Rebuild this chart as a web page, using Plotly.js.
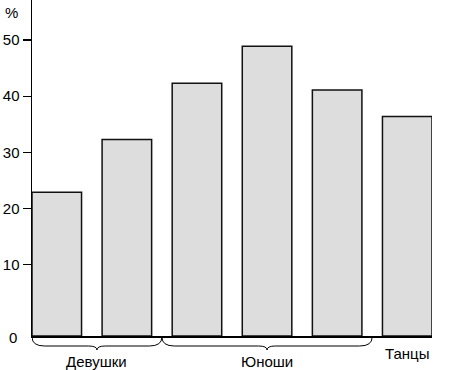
<!DOCTYPE html>
<html>
<head>
<meta charset="utf-8">
<script src="https://cdn.plot.ly/plotly-3.0.1.min.js"></script>
<style>html,body{margin:0;padding:0;background:#fff;}#chart{width:454px;height:370px;}</style>
</head>
<body>
<div id="chart"></div>
<script>
// Data
var categories = [0, 1, 2, 3, 4, 5];
var values = [22.9, 32.3, 42.3, 48.9, 41.1, 36.4];
var groupLabels = ["Девушки", "Юноши", "Танцы"];
var groupFirst = [0, 2, 5];
var groupLast = [1, 4, 5];
var groupBrace = [true, true, false];
var yTickVals = [10, 20, 30, 40, 50];
var yTickText = ["10", "20", "30", "40", "50"];
var zeroLabel = "0";
var unitLabel = "%";

// Layout geometry
var W = 454, H = 370;
var mL = 32, mR = 22, mT = 0, mB = 34;
var plotH = H - mT - mB;
var barW = 0.707;
var xMin = categories[0] - barW / 2;
var xMax = categories[categories.length - 1] + barW / 2;
var yMin = -2.67, yMax = 57.11;
function py(px) { return (H - mB - px) / plotH; } // pixel row -> paper y

var font = {family: "Liberation Sans, Arial, Helvetica, sans-serif", size: 15, color: "#000"};

var trace = {
  type: "bar",
  x: categories,
  y: values.map(function (v) { return v - yMin; }),
  base: yMin,
  width: barW,
  marker: {color: "#dddddd", line: {color: "#111", width: 1.5}},
  hoverinfo: "skip"
};

var shapes = [];
var annotations = [];
for (var g = 0; g < groupLabels.length; g++) {
  var a = groupFirst[g] === 0 ? xMin : groupFirst[g] - 0.5;
  var b = groupLast[g] + 0.5;
  var mid = (a + b) / 2;
  if (groupBrace[g]) {
    var yTop = py(337), yH = py(346), yTip = py(350);
    var e = 0.18, t = 0.12;
    var p = "M " + a + "," + yTop +
      " Q " + a + "," + yH + " " + (a + e) + "," + yH +
      " L " + (mid - t) + "," + yH +
      " Q " + mid + "," + yH + " " + mid + "," + yTip +
      " Q " + mid + "," + yH + " " + (mid + t) + "," + yH +
      " L " + (b - e) + "," + yH +
      " Q " + b + "," + yH + " " + b + "," + yTop;
    shapes.push({type: "path", xref: "x", yref: "paper", path: p, line: {color: "#000", width: 1}});
    annotations.push({xref: "x", yref: "paper", x: mid, y: py(361), text: groupLabels[g], showarrow: false, font: font, xanchor: "center", yanchor: "middle"});
  } else {
    annotations.push({xref: "x", yref: "paper", x: mid, y: py(353), text: groupLabels[g], showarrow: false, font: font, xanchor: "center", yanchor: "middle"});
  }
}
annotations.push({xref: "paper", yref: "paper", x: -13 / (W - mL - mR), y: py(337), text: zeroLabel, showarrow: false, font: font, xanchor: "right", yanchor: "middle"});
annotations.push({xref: "paper", yref: "paper", x: -12 / (W - mL - mR), y: py(13), text: unitLabel, showarrow: false, font: font, xanchor: "right", yanchor: "middle"});

var layout = {
  width: W, height: H,
  margin: {l: mL, r: mR, t: mT, b: mB, pad: 0},
  paper_bgcolor: "#fff", plot_bgcolor: "#fff",
  showlegend: false,
  xaxis: {range: [xMin, xMax], showgrid: false, zeroline: false, showticklabels: false, ticks: "",
          showline: true, linecolor: "#000", linewidth: 1.5, fixedrange: true},
  yaxis: {range: [yMin, yMax], showgrid: false, zeroline: false, tickmode: "array",
          tickvals: yTickVals, ticktext: yTickText, ticks: "outside", ticklen: 8, tickwidth: 1.3,
          tickcolor: "#000", showline: true, linecolor: "#000", linewidth: 1.5,
          tickfont: font, fixedrange: true},
  shapes: shapes,
  annotations: annotations
};

Plotly.newPlot("chart", [trace], layout, {staticPlot: true, displayModeBar: false});
</script>
</body>
</html>
